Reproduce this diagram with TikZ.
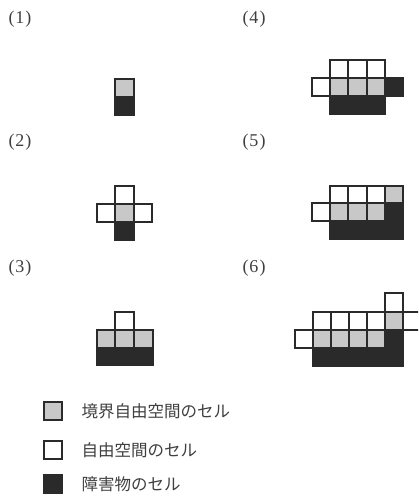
\documentclass[tikz,border=0pt]{standalone}
\usepackage{fontspec}
\setmainfont{Liberation Serif}
\newfontfamily\jp{Noto Sans CJK JP}
\definecolor{ink}{HTML}{2A2A2A}
\definecolor{bnd}{HTML}{C8C8C8}
\tikzset{
  freec/.style={draw=ink,line width=1.2pt,fill=white},
  bndc/.style={draw=ink,line width=1.2pt,fill=bnd},
  obsc/.style={draw=ink,line width=1.2pt,fill=ink},
  lbl/.style={font=\fontsize{18}{18}\selectfont,text=ink!90},
  leg/.style={font=\jp\fontsize{16.5}{16.5}\selectfont,text=ink!90,anchor=west}
}
\newcommand{\cel}[5]{\draw[#5] (#1,#2) rectangle (#3,#4);}
\begin{document}
\begin{tikzpicture}[x=1pt,y=-1pt]
\useasboundingbox (0,0) rectangle (418,497);
\clip (0,0) rectangle (418,497);
% labels
\node[lbl] (l1) at (20,19) {(\kern1pt1\kern1pt)};
\node[lbl] (l2) at (20,142) {(\kern1pt2\kern1pt)};
\node[lbl] (l3) at (20,268) {(\kern1pt3\kern1pt)};
\node[lbl] (l4) at (254,19) {(\kern1pt4\kern1pt)};
\node[lbl] (l5) at (254,142) {(\kern1pt5\kern1pt)};
\node[lbl] (l6) at (254,268) {(\kern1pt6\kern1pt)};
% panel 1
\cel{115}{79}{134}{97}{bndc}
\cel{115}{97}{134}{115}{obsc}
% panel 2
\cel{115}{186}{134}{204}{freec}
\cel{97}{204}{115}{222}{freec}
\cel{134}{204}{152}{222}{freec}
\cel{115}{204}{134}{222}{bndc}
\cel{115}{222}{134}{240}{obsc}
% panel 3
\cel{115}{312}{134}{330}{freec}
\cel{97}{330}{115}{348}{bndc}
\cel{115}{330}{134}{348}{bndc}
\cel{134}{330}{153}{348}{bndc}
\cel{97}{348}{153}{365}{obsc}
% panel 4
\cel{330}{60}{348}{78}{freec}
\cel{348}{60}{367}{78}{freec}
\cel{367}{60}{385}{78}{freec}
\cel{312}{78}{330}{96}{freec}
\cel{330}{78}{348}{96}{bndc}
\cel{348}{78}{367}{96}{bndc}
\cel{367}{78}{385}{96}{bndc}
\cel{385}{78}{403}{96}{obsc}
\cel{330}{96}{385}{114}{obsc}
% panel 5
\cel{330}{186}{348}{203}{freec}
\cel{348}{186}{367}{203}{freec}
\cel{367}{186}{385}{203}{freec}
\cel{385}{186}{403}{203}{bndc}
\cel{312}{203}{330}{221}{freec}
\cel{330}{203}{348}{221}{bndc}
\cel{348}{203}{367}{221}{bndc}
\cel{367}{203}{385}{221}{bndc}
\draw[obsc] (385,203) -- (403,203) -- (403,239) -- (330,239) -- (330,221) -- (385,221) -- cycle;
% panel 6
\cel{385}{293}{403}{312}{freec}
\cel{313}{312}{331}{330}{freec}
\cel{331}{312}{349}{330}{freec}
\cel{349}{312}{367}{330}{freec}
\cel{367}{312}{385}{330}{freec}
\cel{385}{312}{403}{330}{bndc}
\cel{403}{312}{421}{330}{freec}
\cel{295}{330}{313}{348}{freec}
\cel{313}{330}{331}{348}{bndc}
\cel{331}{330}{349}{348}{bndc}
\cel{349}{330}{367}{348}{bndc}
\cel{367}{330}{385}{348}{bndc}
\draw[obsc] (385,330) -- (403,330) -- (403,366) -- (313,366) -- (313,348) -- (385,348) -- cycle;
% legend
\cel{44}{402}{62}{420}{bndc}
\cel{44}{441}{62}{459}{freec}
\cel{44}{475}{62}{493}{obsc}
\node[leg] (t1) at (78,411) {境界自由空間のセル};
\node[leg] (t2) at (78,450) {自由空間のセル};
\node[leg] (t3) at (78,484) {障害物のセル};
\end{tikzpicture}
\end{document}
